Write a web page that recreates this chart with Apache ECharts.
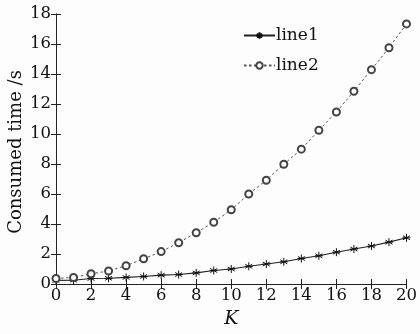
<!DOCTYPE html>
<html>
<head>
<meta charset="utf-8">
<script src="https://cdn.jsdelivr.net/npm/echarts@6/dist/echarts.min.js"></script>
<style>html,body{margin:0;padding:0;background:#fff;}#c{width:420px;height:334px;}</style>
</head>
<body>
<div id="c"></div>
<script>
var K = [0,1,2,3,4,5,6,7,8,9,10,11,12,13,14,15,16,17,18,19,20];
var line1 = [0.24,0.25,0.37,0.38,0.44,0.50,0.59,0.63,0.74,0.90,1.00,1.18,1.33,1.48,1.70,1.88,2.12,2.33,2.53,2.79,3.08];
var line2 = [0.37,0.44,0.68,0.87,1.22,1.68,2.16,2.75,3.42,4.12,4.95,6.00,6.92,7.98,8.99,10.25,11.47,12.85,14.29,15.75,17.34];
var seriesNames = ['line1','line2'];
var xTitle = 'K';
var yTitle = 'Consumed time /s';

var FONT = 'DejaVu Serif';
var chart = echarts.init(document.getElementById('c'), null, {renderer:'canvas'});
function pairs(ys){ return ys.map(function(v,i){ return [K[i], v]; }); }
var star = 'path://M0,-5L0,5M-4.33,-2.5L4.33,2.5M-4.33,2.5L4.33,-2.5M-5,0L5,0';
var axisCommon = {
  min:0, interval:2,
  axisLine:{show:true, lineStyle:{color:'#222', width:1}},
  axisTick:{show:true, inside:true, length:5, lineStyle:{color:'#222'}},
  splitLine:{show:false}
};
chart.setOption({
  backgroundColor:'#fdfdfd',
  animation:false,
  grid:{left:56, right:13, top:14, bottom:45},
  legend:{
    orient:'vertical', left:238, top:22, itemWidth:31, itemHeight:8, itemGap:13,
    textStyle:{fontFamily:FONT, fontSize:17, color:'#111', padding:[0,0,0,-4], height:12, lineHeight:12},
    data:seriesNames
  },
  graphic:[{
    type:'text', x:16, y:152, rotation:Math.PI/2,
    style:{text:yTitle, font:'18px "DejaVu Serif"', fill:'#111', textAlign:'center', textVerticalAlign:'middle'}
  }],
  xAxis:[
    Object.assign({}, axisCommon, {type:'value', max:20, position:'bottom',
      name:xTitle, nameLocation:'middle', nameGap:26,
      nameTextStyle:{fontFamily:FONT, fontSize:19, fontStyle:'italic', color:'#111'},
      axisLabel:{fontFamily:FONT, fontSize:16.5, color:'#111', margin:3}}),
    Object.assign({}, axisCommon, {type:'value', max:20, position:'top', axisLabel:{show:false}})
  ],
  yAxis:[
    Object.assign({}, axisCommon, {type:'value', max:18, position:'left',
      axisLabel:{fontFamily:FONT, fontSize:16.5, color:'#111', margin:5}}),
    Object.assign({}, axisCommon, {type:'value', max:18, position:'right', axisLabel:{show:false}})
  ],
  series:[
    {name:seriesNames[0], type:'line', data:pairs(line1), symbol:star, symbolSize:8,
     itemStyle:{color:'#111', borderColor:'#111', borderWidth:1},
     lineStyle:{color:'#222', width:1.1, type:'solid'}},
    {name:seriesNames[1], type:'line', data:pairs(line2), symbol:'emptyCircle', symbolSize:7,
     itemStyle:{color:'#444', borderColor:'#444', borderWidth:0.9},
     lineStyle:{color:'#555', width:1, type:[2.5,2.5]}}
  ]
});
</script>
</body>
</html>
